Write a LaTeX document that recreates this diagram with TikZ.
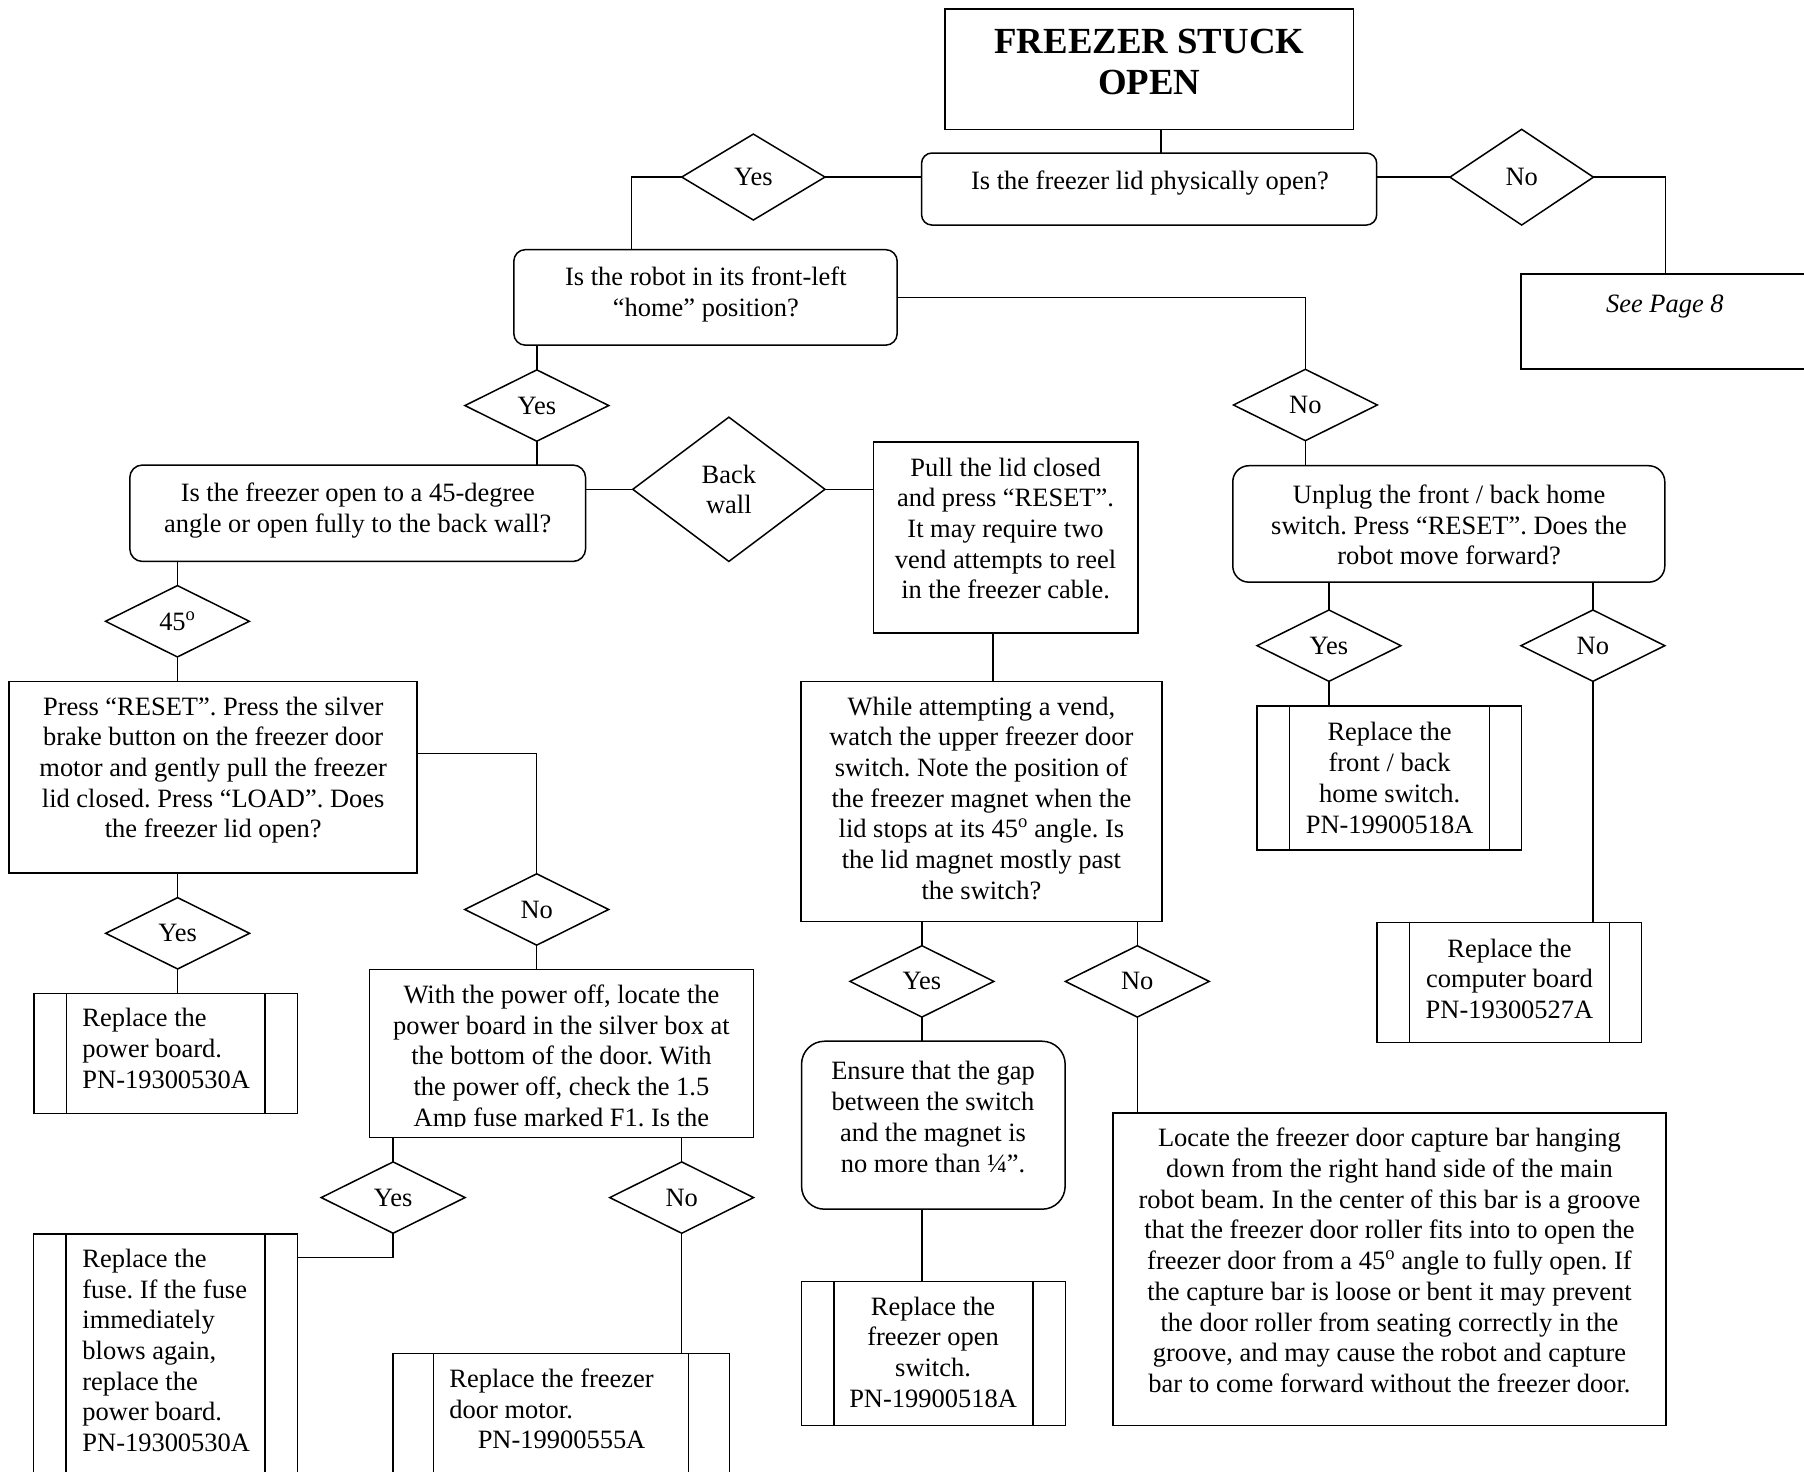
\documentclass[tikz,border=0pt]{standalone}
\usepackage{fontspec}
\setmainfont{Liberation Serif}
\usetikzlibrary{shapes.geometric}
\newcommand\diagfont{\fontsize{23}{26.7}\selectfont}
\begin{document}
\frenchspacing
\begin{tikzpicture}[x=1pt,y=-1pt,line width=1.3pt,
  box/.style={draw,rectangle,inner sep=0pt,outer sep=0pt},
  rbox/.style={box,rounded corners=#1},
  rbox/.default=10pt,
  pp/.style={box,path picture={
      \draw ([xshift=#1]path picture bounding box.north west) -- ([xshift=#1]path picture bounding box.south west);
      \draw ([xshift=-#1]path picture bounding box.north east) -- ([xshift=-#1]path picture bounding box.south east);}},
  pp/.default=28pt,
  dia/.style={draw,diamond,inner sep=0pt,outer sep=0pt,minimum width=125pt,minimum height=62pt,font=\diagfont,align=center},
  txt/.style={inner sep=0pt,font=\diagfont,align=center},
  ltxt/.style={txt,align=left,anchor=west}]
\useasboundingbox (0,0) rectangle (1568,1279);
\clip (0,0) rectangle (1568,1279);

% ---------- boxes ----------
\node[box,minimum width=354.9pt,minimum height=104.4pt] (title) at (998.85,60.2) {};
\node[rbox=9pt,minimum width=395.6pt,minimum height=62.6pt] (lid) at (998.8,164.3) {};
\node[box,minimum width=278pt,minimum height=82.7pt] (see) at (1461,279.35) {};
\node[rbox=10pt,minimum width=333.2pt,minimum height=83pt] (robot) at (613.2,258.5) {};
\node[rbox=11pt,minimum width=396.2pt,minimum height=83.8pt] (b45) at (310.9,446.1) {};
\node[box,minimum width=230pt,minimum height=166pt] (pull) at (874,467) {};
\node[box,minimum width=314pt,minimum height=208.5pt] (while) at (853,696.75) {};
\node[rbox=14pt,minimum width=375.5pt,minimum height=101.2pt] (unplug) at (1259.25,455.4) {};
\node[pp,minimum width=230pt,minimum height=125.2pt] (fb) at (1207.6,676.4) {};
\node[pp,minimum width=229.8pt,minimum height=104pt] (comp) at (1311.9,854) {};
\node[box,minimum width=354.6pt,minimum height=166.5pt] (press) at (185.3,675.75) {};
\node[pp,minimum width=228.8pt,minimum height=104.3pt] (power) at (144.1,915.55) {};
\node[box,minimum width=334pt,minimum height=146.3pt] (with) at (488,915.65) {};
\node[pp,minimum width=229.3pt,minimum height=227.5pt] (fuse) at (143.85,1186.25) {};
\node[pp=35.5pt,minimum width=292.5pt,minimum height=123.7pt] (motor) at (487.75,1238.15) {};
\node[rbox=20pt,minimum width=229.1pt,minimum height=146pt] (ensure) at (811.25,978) {};
\node[pp,minimum width=229.3pt,minimum height=125pt] (fos) at (811.35,1176.5) {};
\node[box,minimum width=480.5pt,minimum height=271.4pt] (locate) at (1207.75,1103.3) {};

% ---------- box texts ----------
\node[txt,font=\fontsize{32}{36}\selectfont\bfseries] (title-t) at (999,57.2) {\strut FREEZER STUCK\\OPEN\strut};
\node[txt] (lid-t) at (999.5,159.7) {\strut Is the freezer lid physically open?\strut};
\node[txt,font=\diagfont\itshape] (see-t) at (1447,266.5) {\strut See Page 8\strut};
\node[txt] (robot-t) at (613.5,256.3) {\strut Is the robot in its front-left\\“home” position?\strut};
\node[txt] (b45-t) at (311,444) {\strut Is the freezer open to a 45-degree\\angle or open fully to the back wall?\strut};
\node[txt] (pull-t) at (874,461.8) {\strut Pull the lid closed\\and press “RESET”.\\It may require two\\vend attempts to reel\\in the freezer cable.\strut};
\node[txt] (while-t) at (853,696.3) {\strut While attempting a vend,\\watch the upper freezer door\\switch. Note the position of\\the freezer magnet when the\\lid stops at its 45\textsuperscript{o} angle. Is\\the lid magnet mostly past\\the switch?\strut};
\node[txt] (unplug-t) at (1259.5,458.9) {\strut Unplug the front / back home\\switch. Press “RESET”. Does the\\robot move forward?\strut};
\node[txt] (fb-t) at (1207.8,678.7) {\strut Replace the\\front / back\\home switch.\\PN-19900518A\strut};
\node[txt] (comp-t) at (1312,853.2) {\strut Replace the\\computer board\\PN-19300527A\strut};
\node[txt] (press-t) at (185.3,669.6) {\strut Press “RESET”. Press the silver\\brake button on the freezer door\\motor and gently pull the freezer\\lid closed. Press “LOAD”. Does\\the freezer lid open?\strut};
\node[ltxt] (power-t) at (71,913.8) {\strut Replace the\\power board.\\PN-19300530A\strut};
\begin{scope}
  \clip (with.north west) rectangle ([yshift=9.3pt]with.south east);
  \node[txt] (with-t) at (488,920.1) {\strut With the power off, locate the\\power board in the silver box at\\the bottom of the door. With\\the power off, check the 1.5\\Amp fuse marked F1. Is the\strut};
\end{scope}
\node[ltxt] (fuse-t) at (71,1176.3) {\strut Replace the\\fuse. If the fuse\\immediately\\blows again,\\replace the\\power board.\\PN-19300530A\strut};
\node[ltxt] (motor-t) at (390,1227.3) {\strut Replace the freezer\\door motor.\\\hspace*{24.6pt}PN-19900555A\strut};
\node[txt] (ensure-t) at (811,973.4) {\strut Ensure that the gap\\between the switch\\and the magnet is\\no more than ¼”.\strut};
\node[txt] (fos-t) at (811,1177.7) {\strut Replace the\\freezer open\\switch.\\PN-19900518A\strut};
\node[txt] (locate-t) at (1207.7,1098.2) {\strut Locate the freezer door capture bar hanging\\down from the right hand side of the main\\robot beam. In the center of this bar is a groove\\that the freezer door roller fits into to open the\\freezer door from a 45\textsuperscript{o} angle to fully open. If\\the capture bar is loose or bent it may prevent\\the door roller from seating correctly in the\\groove, and may cause the robot and capture\\bar to come forward without the freezer door.\strut};

% ---------- decisions ----------
\node[dia,minimum width=124.5pt,minimum height=74.7pt] (d1) at (654.8,153.9) {Yes};
\node[dia,minimum width=124.7pt,minimum height=83.2pt] (d2) at (1322.6,154) {No};
\node[dia] (d3) at (466.6,352.5) {Yes};
\node[dia] (d4) at (1134.6,352) {No};
\node[dia,minimum width=167pt,minimum height=125.4pt] (d5) at (633.5,425.3) {Back\\wall};
\node[dia] (d6) at (154.2,540) {45\textsuperscript{o}};
\node[dia] (d7) at (154.4,811.2) {Yes};
\node[dia] (d8) at (466.5,790.5) {No};
\node[dia] (d9) at (341.7,1040.9) {Yes};
\node[dia] (d10) at (592.5,1040.9) {No};
\node[dia] (d11) at (801.3,853) {Yes};
\node[dia] (d12) at (988.5,853) {No};
\node[dia] (d13) at (1155.1,561.2) {Yes};
\node[dia] (d14) at (1384.5,561.2) {No};

% ---------- connector bend points ----------
\coordinate (xt) at (1009,0);
\coordinate (xr) at (549,0);
\coordinate (xs) at (1447.7,0);
\coordinate (xp) at (863,0);
\coordinate (yp) at (0,654.8);
\coordinate (yf) at (0,1092.9);

% ---------- connectors ----------
\draw (xt |- title.south) -- (xt |- lid.north);
\draw (d1.east) -- (d1.east -| lid.west);
\draw (d1.west) -| (xr |- robot.north);
\draw (d2.west) -- (d2.west -| lid.east);
\draw (d2.east) -| (xs |- see.north);
\draw (robot.east) -| (d4.north);
\draw (d4.south) -- (d4.south |- unplug.north);
\draw (d3.north) -- (d3.north |- robot.south);
\draw (d3.south) -- (d3.south |- b45.north);
\draw (d5.west) -- (d5.west -| b45.east);
\draw (d5.east) -- (d5.east -| pull.west);
\draw (d6.north) -- (d6.north |- b45.south);
\draw (d6.south) -- (d6.south |- press.north);
\draw (xp |- pull.south) -- (xp |- while.north);
\draw (d11.north) -- (d11.north |- while.south);
\draw (d11.south) -- (d11.south |- ensure.north);
\draw (d11.south |- ensure.south) -- (d11.south |- fos.north);
\draw (d12.north) -- (d12.north |- while.south);
\draw (d12.south) -- (d12.south |- locate.north);
\draw (d13.north) -- (d13.north |- unplug.south);
\draw (d13.south) -- (d13.south |- fb.north);
\draw (d14.north) -- (d14.north |- unplug.south);
\draw (d14.south) -- (d14.south |- comp.north);
\draw (yp -| press.east) -| (d8.north);
\draw (d8.south) -- (d8.south |- with.north);
\draw (d7.north) -- (d7.north |- press.south);
\draw (d7.south) -- (d7.south |- power.north);
\draw (d9.north) -- (d9.north |- with.south);
\draw (d9.south) |- (yf -| fuse.east);
\draw (d10.north) -- (d10.north |- with.south);
\draw (d10.south) -- (d10.south |- motor.north);
\end{tikzpicture}
\end{document}
